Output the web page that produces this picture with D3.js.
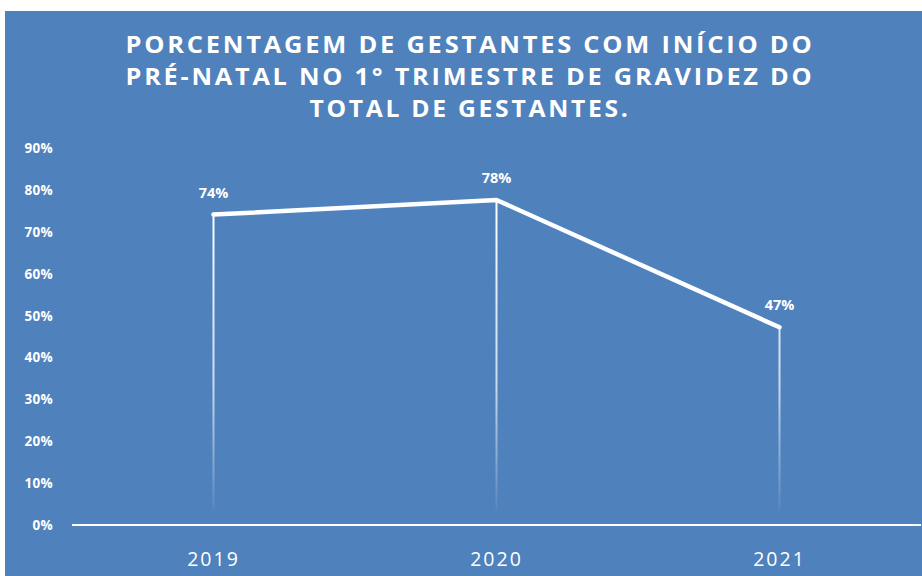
<!DOCTYPE html>
<html lang="pt">
  <head>
    <meta charset="utf-8">
    <title>Pré-natal no 1° trimestre</title>
    <script src="https://d3js.org/d3.v7.min.js"></script>
    <style>
      body { margin: 0; background: #fff; }
      text { font-family: "Open Sans", "DejaVu Sans", sans-serif; fill: #fff; }
    </style>
  </head>

  <body>

  <script>

  // data
  var years = ["2019", "2020", "2021"];
  var percents = [0.741, 0.776, 0.472];
  var yTicks = [0, 0.1, 0.2, 0.3, 0.4, 0.5, 0.6, 0.7, 0.8, 0.9];
  var titleLines = [
    "PORCENTAGEM DE GESTANTES COM INÍCIO DO",
    "PRÉ-NATAL NO 1° TRIMESTRE DE GRAVIDEZ DO",
    "TOTAL DE GESTANTES."
  ];

  var w = 922;
  var h = 576;

  var svg = d3.select("body")
    .append("svg")
      .attr("width", w)
      .attr("height", h);

  // blue panel
  svg.append("rect")
      .attr("x", 5)
      .attr("y", 11)
      .attr("width", w - 5)
      .attr("height", h - 11)
      .attr("fill", "#4f81bd");

  // fade for the drop lines
  var grad = svg.append("defs").append("linearGradient")
      .attr("id", "fade")
      .attr("gradientUnits", "userSpaceOnUse")
      .attr("x1", 0).attr("x2", 0)
      .attr("y1", 200).attr("y2", 510);
  grad.append("stop").attr("offset", "0%").attr("stop-color", "#fff").attr("stop-opacity", 1);
  grad.append("stop").attr("offset", "60%").attr("stop-color", "#fff").attr("stop-opacity", 0.7);
  grad.append("stop").attr("offset", "100%").attr("stop-color", "#fff").attr("stop-opacity", 0.05);

  // title (narrow, spaced caps)
  var titleLen = [689, 689, 321];
  svg.append("g").selectAll("text")
    .data(titleLines)
    .enter().append("text")
      .attr("x", 470)
      .attr("y", (d, i) => 53 + i * 32)
      .attr("text-anchor", "middle")
      .attr("font-size", 23)
      .attr("font-weight", "bold")
      .attr("letter-spacing", 2.5)
      .attr("textLength", (d, i) => titleLen[i])
      .attr("lengthAdjust", "spacingAndGlyphs")
      .text(d => d);

  var xScale = d3.scaleBand()
    .domain(years)
    .range([72, 921]);

  var yScale = d3.scaleLinear()
    .domain([0, 0.9])
    .range([525, 148]);

  var fmt = d3.format(".0%");

  // y tick labels
  svg.append("g").selectAll("text")
    .data(yTicks)
    .enter().append("text")
      .attr("x", 53)
      .attr("y", d => yScale(d) + 5)
      .attr("text-anchor", "end")
      .attr("font-size", 13.5)
      .attr("font-weight", "bold")
      .attr("letter-spacing", 0.3)
      .text(d => fmt(d));

  // baseline
  svg.append("line")
      .attr("x1", 72)
      .attr("x2", 921)
      .attr("y1", yScale(0))
      .attr("y2", yScale(0))
      .attr("stroke", "#fff")
      .attr("stroke-width", 2);

  // x labels
  svg.append("g").selectAll("text")
    .data(years)
    .enter().append("text")
      .attr("x", d => xScale(d) + xScale.bandwidth() / 2)
      .attr("y", 566)
      .attr("text-anchor", "middle")
      .attr("font-size", 19.5)
      .attr("letter-spacing", 2)
      .text(d => d);

  var cx = (d, i) => xScale(years[i]) + xScale.bandwidth() / 2;

  // drop lines
  svg.append("g").selectAll("line")
    .data(percents)
    .enter().append("line")
      .attr("x1", cx)
      .attr("x2", cx)
      .attr("y1", d => yScale(d))
      .attr("y2", yScale(0) - 15)
      .attr("stroke", "url(#fade)")
      .attr("stroke-width", 2);

  // main line
  var line = d3.line()
    .x((d, i) => cx(d, i))
    .y(d => yScale(d));

  svg.append("path")
      .datum(percents)
      .attr("d", line)
      .attr("fill", "none")
      .attr("stroke", "#fff")
      .attr("stroke-width", 4.5)
      .attr("stroke-linecap", "round")
      .attr("stroke-linejoin", "round");

  // value labels
  svg.append("g").selectAll("text")
    .data(percents)
    .enter().append("text")
      .attr("x", cx)
      .attr("y", d => yScale(d) - 17)
      .attr("text-anchor", "middle")
      .attr("font-size", 14.5)
      .attr("font-weight", "bold")
      .text(d => fmt(d));

  </script>

  </body>

</html>
